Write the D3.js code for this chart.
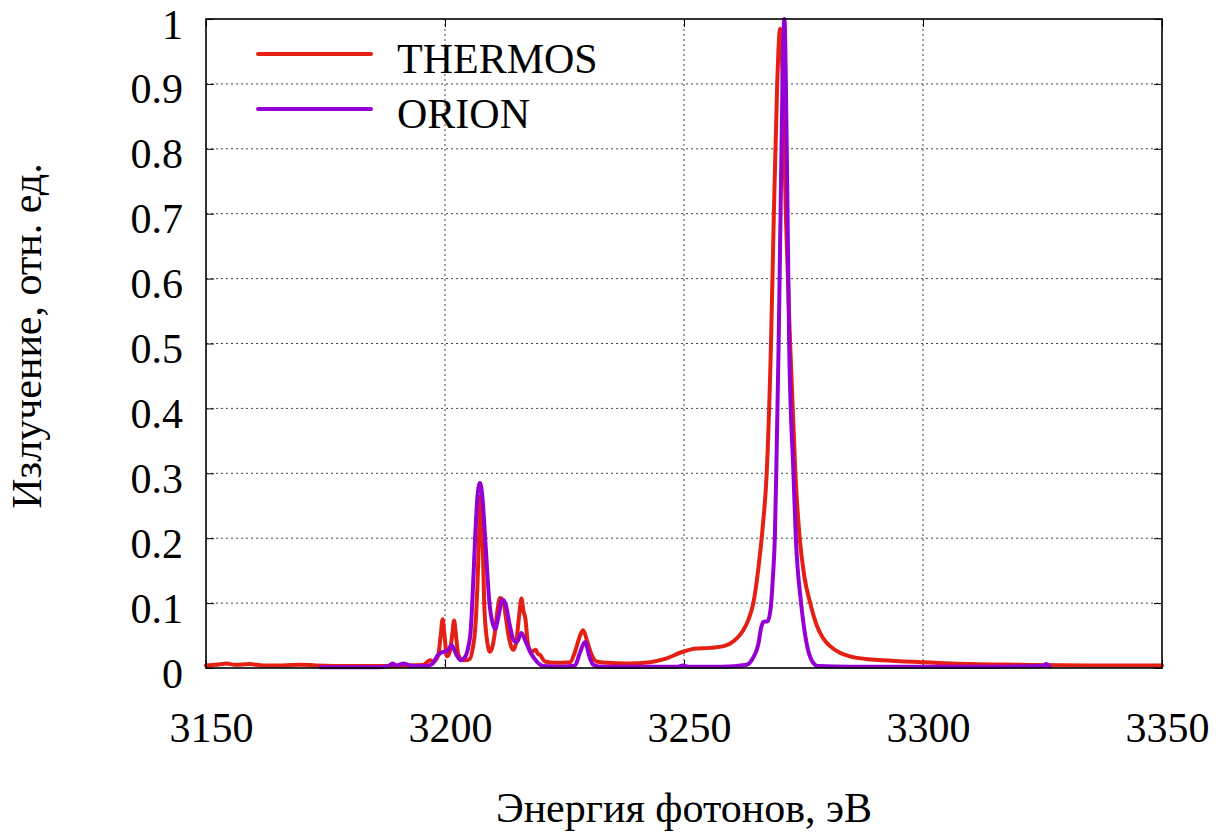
<!DOCTYPE html>
<html>
<head>
<meta charset="utf-8">
<script src="https://cdn.jsdelivr.net/npm/d3@7"></script>
<style>
  html, body { margin: 0; padding: 0; background: #fff; }
  svg { display: block; }
  text { font-family: "Liberation Serif", "Times New Roman", serif; fill: #000; }
</style>
</head>
<body>
<svg id="chart" width="1219" height="834"></svg>
<script>
// ---- data ----
const xTicks = [3150, 3200, 3250, 3300, 3350];
const yTicks = [0, 0.1, 0.2, 0.3, 0.4, 0.5, 0.6, 0.7, 0.8, 0.9, 1];
const seriesNames = ["THERMOS", "ORION"];
const seriesColors = ["#e41f14", "#9400d3"];

const thermosE = [3150, 3152, 3154.3, 3156, 3159.2, 3162, 3166, 3169.7, 3173, 3180, 3186, 3192, 3195.5,
  3196.9, 3197.6, 3198.6, 3199.1, 3199.5, 3199.9, 3200.4, 3201.0, 3201.5, 3201.9, 3202.3, 3202.8,
  3203.5, 3204.2, 3205.2, 3205.8, 3206.3, 3206.8, 3207.2, 3207.5, 3207.8, 3208.2, 3208.7, 3209.4,
  3210.0, 3210.5, 3211.0, 3211.5, 3212.2, 3212.7, 3213.2, 3213.8, 3214.3, 3214.9, 3215.5, 3216.0,
  3216.4, 3216.8, 3217.4, 3218.1, 3218.6, 3219.0, 3219.4, 3219.9, 3220.9, 3223, 3226.2, 3227.2,
  3228.2, 3228.9, 3229.8, 3230.7, 3231.7, 3234, 3238, 3242.9, 3246, 3249.8, 3252.5, 3255.4, 3258.5,
  3260.5, 3262.3, 3263.5, 3264.5, 3265.5, 3266.5, 3267.3, 3268.2, 3268.8, 3269.5, 3270.1, 3270.6,
  3271.3, 3272.2, 3273.3, 3274.2, 3275.2, 3276.4, 3277.8, 3279.0, 3280.5, 3282.5, 3284.7, 3288,
  3291.6, 3299.7, 3310, 3320, 3335, 3350];
const thermosV = [0.004, 0.005, 0.007, 0.005, 0.006, 0.004, 0.004, 0.005, 0.004, 0.003, 0.003, 0.004, 0.005,
  0.012, 0.010, 0.020, 0.050, 0.075, 0.050, 0.018, 0.025, 0.050, 0.073, 0.050, 0.020,
  0.013, 0.012, 0.014, 0.030, 0.058, 0.130, 0.220, 0.265, 0.220, 0.100, 0.048, 0.025,
  0.035, 0.058, 0.090, 0.108, 0.103, 0.080, 0.054, 0.034, 0.028, 0.040, 0.080, 0.107,
  0.088, 0.077, 0.035, 0.025, 0.027, 0.028, 0.022, 0.020, 0.010, 0.008, 0.009, 0.025,
  0.049, 0.058, 0.040, 0.020, 0.010, 0.008, 0.007, 0.009, 0.014, 0.025, 0.030, 0.031, 0.034,
  0.042, 0.057, 0.075, 0.100, 0.150, 0.220, 0.300, 0.500, 0.700, 0.900, 0.985, 0.920,
  0.700, 0.500, 0.300, 0.200, 0.140, 0.100, 0.065, 0.047, 0.034, 0.024, 0.018, 0.014,
  0.012, 0.009, 0.006, 0.005, 0.004, 0.004];

const orionE = [3174, 3180, 3186, 3188.2, 3189, 3189.8, 3191.4, 3193, 3196, 3197.3, 3198.5, 3199.6,
  3200.4, 3201.4, 3202.4, 3203.3, 3204.0, 3204.8, 3205.4, 3205.7, 3206.3, 3206.8, 3207.3, 3207.8,
  3208.4, 3209.3, 3210.0, 3210.5, 3211.2, 3212.0, 3212.6, 3213.6, 3214.4, 3215.0, 3216.0, 3216.8,
  3217.8, 3219.2, 3220.6, 3224, 3227.2, 3228.2, 3229.3, 3230.2, 3231, 3232.5, 3240, 3248.5, 3249.8,
  3251, 3258, 3263.1, 3264.4, 3265.5, 3266.2, 3266.6, 3267.5, 3268.1, 3268.6, 3269.0, 3269.3,
  3269.8, 3270.2, 3270.6, 3271.0, 3271.5, 3272.0, 3272.9, 3273.4, 3274.5, 3275.6, 3276.7, 3278,
  3285, 3300, 3315, 3325, 3325.8, 3326.5];
const orionV = [0.001, 0.001, 0.001, 0.003, 0.007, 0.004, 0.007, 0.003, 0.003, 0.006, 0.020, 0.025,
  0.026, 0.035, 0.020, 0.012, 0.015, 0.030, 0.060, 0.100, 0.200, 0.265, 0.285, 0.265,
  0.200, 0.100, 0.068, 0.060, 0.080, 0.105, 0.100, 0.064, 0.042, 0.040, 0.054, 0.042,
  0.025, 0.010, 0.003, 0.002, 0.004, 0.023, 0.040, 0.018, 0.005, 0.002, 0.002, 0.002, 0.004,
  0.002, 0.002, 0.005, 0.015, 0.035, 0.064, 0.071, 0.072, 0.090, 0.140, 0.200, 0.300,
  0.500, 0.700, 0.900, 1.000, 0.800, 0.500, 0.300, 0.200, 0.100, 0.040, 0.012, 0.003,
  0.002, 0.002, 0.002, 0.003, 0.006, 0.002];

const xTitle = "Энергия фотонов, эВ";
const yTitle = "Излучение, отн. ед.";

// ---- layout ----
const W = 1219, H = 834;
const m = { left: 206, right: 57, top: 19, bottom: 166 };
const iw = W - m.left - m.right, ih = H - m.top - m.bottom;
const FS = 42;
const LW = 4;

const svg = d3.select("#chart");
const g = svg.append("g").attr("transform", `translate(${m.left},${m.top})`);

const x = d3.scaleLinear().domain([3150, 3350]).range([0, iw]);
const y = d3.scaleLinear().domain([0, 1]).range([ih, 0]);

// grid
const grid = g.append("g").attr("class", "grid");
grid.selectAll("line.gx").data(xTicks.slice(1, -1)).join("line")
  .attr("x1", d => x(d)).attr("x2", d => x(d)).attr("y1", 0).attr("y2", ih)
  .attr("stroke", "#444").attr("stroke-width", 1).attr("stroke-dasharray", "2,3");
grid.selectAll("line.gy").data(yTicks.slice(1, -1)).join("line")
  .attr("y1", d => y(d)).attr("y2", d => y(d)).attr("x1", 0).attr("x2", iw)
  .attr("stroke", "#444").attr("stroke-width", 1).attr("stroke-dasharray", "2,3");

// axes
const fmtY = d => (d === 0 ? "0" : d === 1 ? "1" : d3.format(".1f")(d));
const xAxis = g.append("g").attr("transform", `translate(0,${ih})`)
  .call(d3.axisBottom(x).tickValues(xTicks).tickSizeInner(-8).tickSizeOuter(0).tickPadding(0).tickFormat(d3.format("d")));
xAxis.selectAll("text").attr("dy", null).attr("y", 74).attr("dx", 5);
const xAxisTop = g.append("g")
  .call(d3.axisTop(x).tickValues(xTicks).tickSizeInner(-8).tickSizeOuter(0).tickFormat(""));
const yAxis = g.append("g")
  .call(d3.axisLeft(y).tickValues(yTicks).tickSizeInner(-8).tickSizeOuter(0).tickPadding(23).tickFormat(fmtY));
yAxis.selectAll("text").attr("dy", null).attr("y", 19);
const yAxisRight = g.append("g").attr("transform", `translate(${iw},0)`)
  .call(d3.axisRight(y).tickValues(yTicks).tickSizeInner(-8).tickSizeOuter(0).tickFormat(""));

[xAxis, xAxisTop, yAxis, yAxisRight].forEach(a => {
  a.select(".domain").remove();
  a.selectAll("line").attr("stroke", "#000").attr("stroke-width", 1);
  a.selectAll("text").style("font-family", '"Liberation Serif", serif').style("font-size", FS + "px").attr("fill", "#000");
});

// series
const line = d3.line().x(d => x(d[0])).y(d => y(d[1])).curve(d3.curveMonotoneX);
const series = [
  d3.zip(thermosE, thermosV),
  d3.zip(orionE, orionV)
];
const plot = g.append("g");
series.forEach((s, i) => {
  plot.append("path").datum(s)
    .attr("fill", "none").attr("stroke", seriesColors[i])
    .attr("stroke-width", LW).attr("stroke-linejoin", "round").attr("stroke-linecap", "round")
    .attr("d", line);
});

// frame
g.append("rect").attr("x", 0).attr("y", 0).attr("width", iw).attr("height", ih)
  .attr("fill", "none").attr("stroke", "#000").attr("stroke-width", 1.6);

// legend
const leg = svg.append("g");
const legY = [54, 109];
seriesNames.forEach((n, i) => {
  leg.append("line").attr("x1", 258).attr("x2", 371).attr("y1", legY[i]).attr("y2", legY[i])
    .attr("stroke", seriesColors[i]).attr("stroke-width", LW).attr("stroke-linecap", "round");
  leg.append("text").attr("x", 397).attr("y", legY[i] + 19)
    .style("font-size", FS + "px").text(n);
});

// titles
svg.append("text").attr("x", m.left + iw / 2).attr("y", 822).attr("text-anchor", "middle")
  .style("font-size", FS + "px").text(xTitle);
svg.append("text").attr("transform", `translate(41,${336}) rotate(-90)`).attr("text-anchor", "middle")
  .style("font-size", FS + "px").text(yTitle);
</script>
</body>
</html>
